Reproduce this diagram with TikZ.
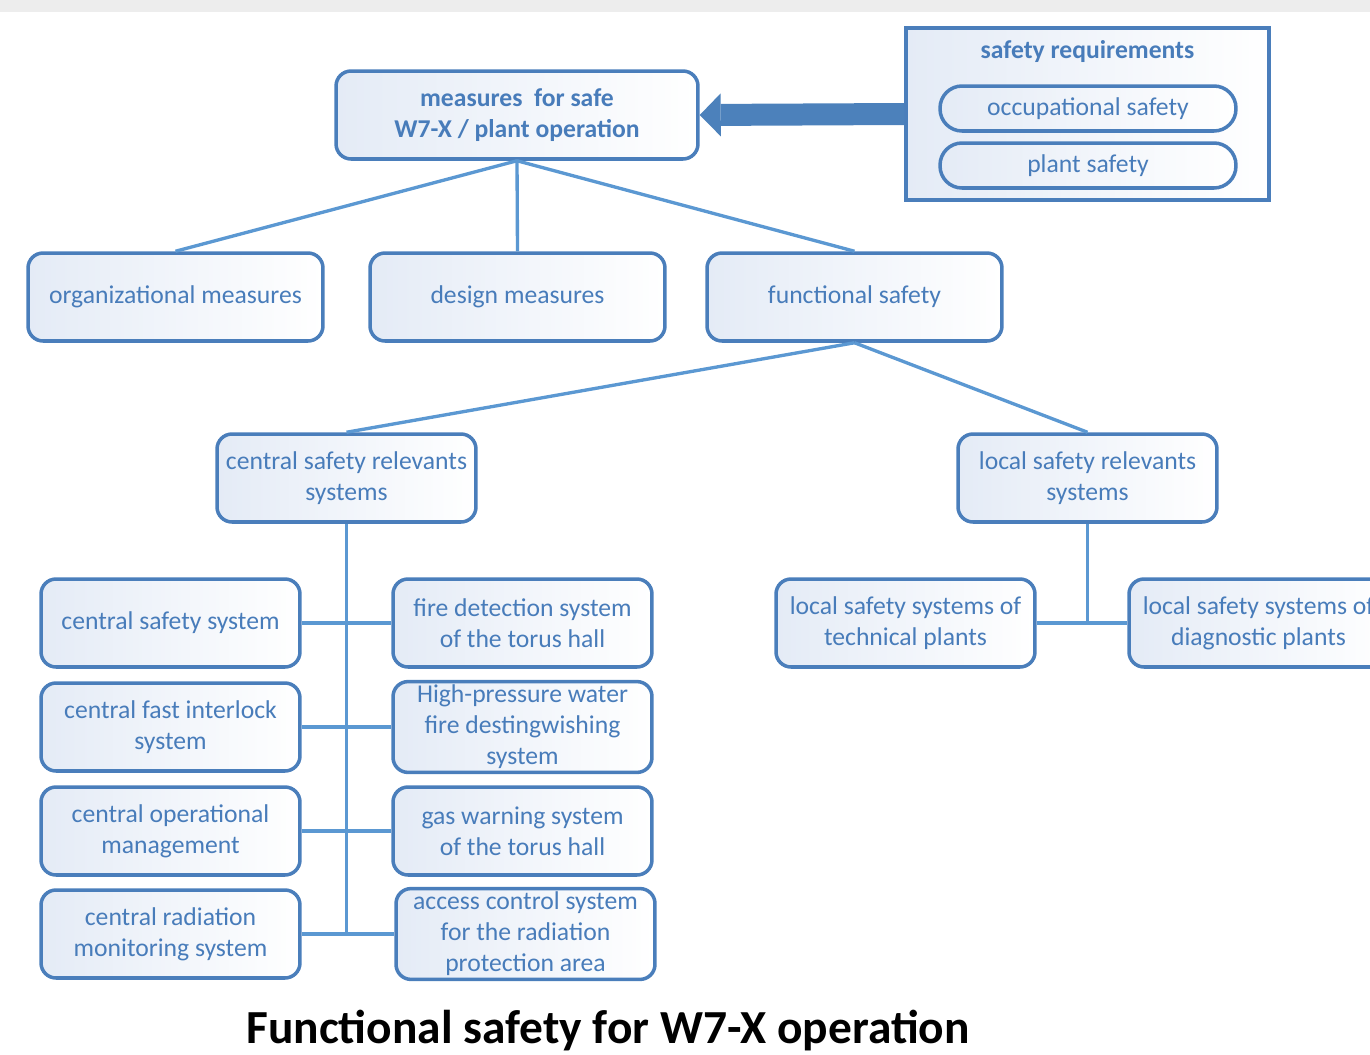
\documentclass[tikz,border=0pt]{standalone}
\usepackage{fontspec}
\setmainfont{Carlito}
\usetikzlibrary{arrows.meta}
\definecolor{boxstroke}{RGB}{74, 126, 187}
\definecolor{boxtext}{RGB}{72, 124, 186}
\definecolor{boxshade}{RGB}{228, 235, 246}
\definecolor{linkcol}{RGB}{91, 152, 210}
\definecolor{arrowcol}{RGB}{76, 129, 187}
\definecolor{bandcol}{RGB}{237, 237, 237}
\tikzset{
  % rounded item boxes (shaded light blue -> white)
  sbox/.style={
    rectangle, rounded corners=0.3cm, draw=boxstroke, line width=2pt,
    left color=boxshade, right color=white, text=boxtext,
    font=\fontsize{14.6}{17.6}\selectfont, align=center,
    minimum height=1.76cm, inner sep=2pt
  },
  sboxT/.style={sbox, minimum width=7.24cm, font=\fontsize{14.6}{17.6}\selectfont\bfseries},
  sboxW/.style={sbox, minimum width=5.9cm},
  sboxN/.style={sbox, minimum width=5.18cm},
  %
  % requirement pills and their frame
  pill/.style={
    sbox, rounded corners=0.44cm, minimum width=5.92cm, minimum height=0.9cm
  },
  reqframe/.style={
    rectangle, draw=boxstroke, line width=2pt,
    left color=boxshade, right color=white,
    minimum width=7.26cm, minimum height=3.44cm
  },
  %
  % connectors
  link/.style={draw=linkcol, line width=1.9pt},
  bigarrow/.style={
    -{Triangle[length=0.42cm, width=0.86cm, line width=0pt]},
    draw=arrowcol, line width=0.44cm
  },
}

\begin{document}
\begin{tikzpicture}[x=0.02cm, y=-0.02cm]

  \useasboundingbox (0,0) rectangle (1370,1055);
  \clip (0,0) rectangle (1370,1055);
  \fill[bandcol] (0,0) rectangle (1370,12);

  %% -- requirements ---------------------------------------------------------
  \node[reqframe] (req) at (1087.5, 114) {};
  \node[text=boxtext, font=\fontsize{14.6}{17.6}\selectfont\bfseries] (reqtitle) at (1087.5, 52) {safety requirements};
  \node[pill] (occ)   at (1088, 108.5) {occupational safety};
  \node[pill] (plant) at (1088, 165.5) {plant safety};

  %% -- top level ------------------------------------------------------------
  \node[sboxT] (top) at (517, 115) {measures~~for safe\\W7-X / plant operation};

  \node[sboxW] (org)    at (175.5, 297) {organizational measures};
  \node[sboxW] (design) at (517.5, 297) {design measures};
  \node[sboxW] (func)   at (854.5, 297) {functional safety};

  %% -- functional safety branches -------------------------------------------
  \node[sboxN] (central) at (346.5, 478) {central safety relevants\\systems};
  \node[sboxN] (local)   at (1087.5, 478) {local safety relevants\\systems};

  % central, left column
  \node[sboxN] (csafe) at (170.5, 623) {central safety system};
  \node[sboxN] (cfast) at (170.5, 727) {central fast interlock\\system};
  \node[sboxN] (cop)   at (170.5, 831) {central operational\\management};
  \node[sboxN] (crad)  at (170.5, 934) {central radiation\\monitoring system};

  % central, right column
  \node[sboxN] (fire)   at (522.5, 623) {fire detection system\\of the torus hall};
  \node[sboxN] (water)  at (522.5, 727) {High-pressure water\\fire destingwishing\\system};
  \node[sboxN] (gas)    at (522.5, 831) {gas warning system\\of the torus hall};
  \node[sboxN] (access) at (525.5, 934) {access control system\\for the radiation\\protection area};

  % local
  \node[sboxN] (ltech) at (905.5, 623) {local safety systems of\\technical plants};
  \node[sboxN] (ldiag) at (1258.5, 623) {local safety systems of\\diagnostic plants};

  %% -- caption --------------------------------------------------------------
  \node[font=\fontsize{27}{32}\selectfont\bfseries] (caption) at (608, 1031) {Functional safety for W7-X operation};

  %% -- connectors -----------------------------------------------------------
  \draw[bigarrow] (req.west) -- (top.east);

  \draw[link] (top.south) -- (org.north);
  \draw[link] (top.south) -- (design.north);
  \draw[link] (top.south) -- (func.north);

  \draw[link] (func.south) -- (central.north);
  \draw[link] (func.south) -- (local.north);

  \draw[link] (central.south) -- (central.south |- crad.east);
  \draw[link] (csafe.east) -- (fire.west);
  \draw[link] (cfast.east) -- (water.west);
  \draw[link] (cop.east)   -- (gas.west);
  \draw[link] (crad.east)  -- (access.west);

  \draw[link] (local.south) -- (local.south |- ltech.east);
  \draw[link] (ltech.east) -- (ldiag.west);

\end{tikzpicture}
\end{document}
